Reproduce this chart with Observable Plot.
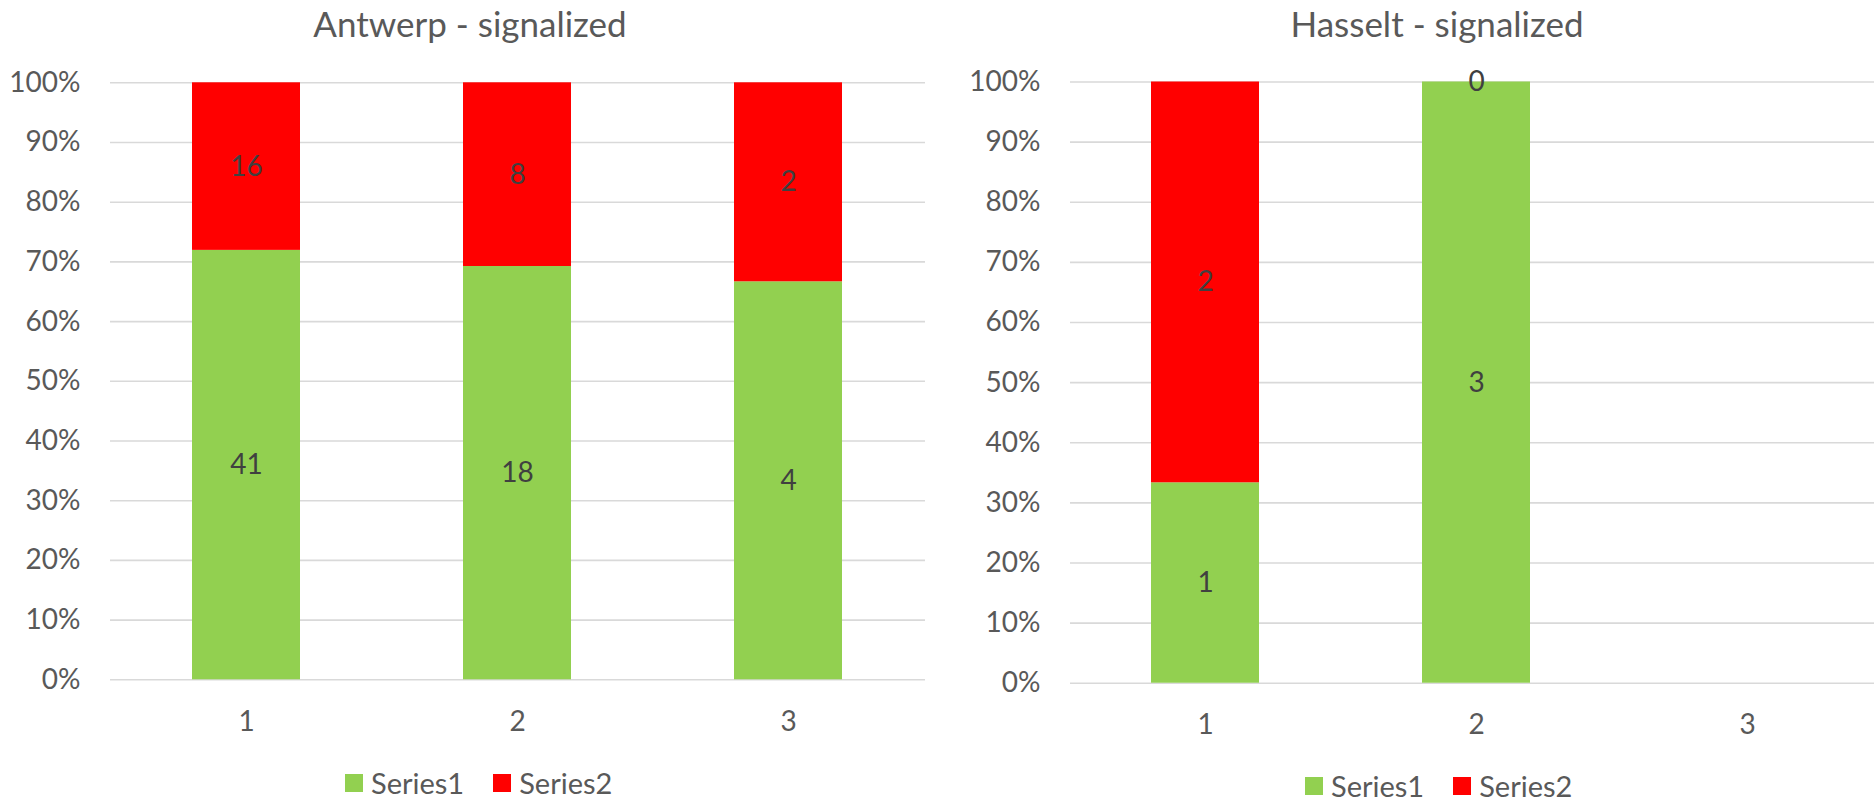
<!DOCTYPE html>
<html>
<head>
<meta charset="utf-8">
<script src="https://cdn.jsdelivr.net/npm/d3@7"></script>
<script src="https://cdn.jsdelivr.net/npm/@observablehq/plot@0.6"></script>
<style>
  html, body { margin: 0; padding: 0; background: #fff; overflow: hidden; }
  #page { position: relative; width: 1874px; height: 803px; overflow: hidden; font-family: Lato, "Open Sans", sans-serif; }
  .title { position: absolute; width: 700px; text-align: center; font-size: 35px; line-height: 36px; color: #595959; white-space: nowrap; }
  .chart { position: absolute; }
  .chart svg { max-width: none !important; }
  .legend { position: absolute; display: flex; align-items: center; font-size: 29px; line-height: 29px; color: #595959; white-space: nowrap; }
  .legend .sw { display: inline-block; width: 18px; height: 18px; margin-right: 8px; }
  .legend .item { display: flex; align-items: center; margin-right: 29px; }
</style>
</head>
<body>
<div id="page"></div>
<script>
// Categories and series values
const categories = ["1", "2", "3"];
const seriesNames = ["Series1", "Series2"];
const seriesColors = ["#92d050", "#ff0000"];

const antwerpSeries1 = [41, 18, 4];
const antwerpSeries2 = [16, 8, 2];

const hasseltSeries1 = [1, 3, null];
const hasseltSeries2 = [2, 0, null];

const yTicks = [0, 0.1, 0.2, 0.3, 0.4, 0.5, 0.6, 0.7, 0.8, 0.9, 1];

function toRows(s1, s2) {
  const rows = [];
  [s1, s2].forEach((vals, si) => {
    vals.forEach((v, ci) => {
      if (v != null) rows.push({cat: categories[ci], series: seriesNames[si], value: v});
    });
  });
  return rows;
}

function stackedChart(rows, {width, height, marginLeft, marginRight, marginTop, marginBottom}) {
  return Plot.plot({
    width, height, marginLeft, marginRight, marginTop, marginBottom,
    style: {fontFamily: "Lato, 'Open Sans', sans-serif", background: "transparent", overflow: "visible", maxWidth: "none"},
    x: {type: "band", domain: categories, paddingInner: 0.6, paddingOuter: 0.3, axis: null},
    y: {domain: [0, 1], axis: null},
    color: {domain: seriesNames, range: seriesColors},
    marks: [
      Plot.gridY(yTicks, {stroke: "#d9d9d9", strokeOpacity: 1, strokeWidth: 1.6}),
      Plot.axisY(yTicks, {tickSize: 0, tickPadding: 30, tickFormat: d3.format(".0%"), fill: "#595959", fontSize: 28, label: null}),
      Plot.axisX({tickSize: 0, tickPadding: 31, fill: "#595959", fontSize: 28, label: null}),
      Plot.barY(rows, {x: "cat", y: "value", fill: "series", offset: "normalize"}),
      Plot.text(rows, Plot.stackY({x: "cat", y: "value", text: d => String(d.value), offset: "normalize", fill: "#404040", fontSize: 28}))
    ]
  });
}

const page = document.getElementById("page");

function addPanel({title, titleCenter, rows, left, top, dims, legendLeft, legendTop}) {
  const t = document.createElement("div");
  t.className = "title";
  t.textContent = title;
  t.style.left = (titleCenter - 350) + "px";
  t.style.top = "5px";
  page.appendChild(t);

  const wrap = document.createElement("div");
  wrap.className = "chart";
  wrap.style.left = left + "px";
  wrap.style.top = top + "px";
  wrap.style.width = dims.width + "px";
  wrap.style.height = dims.height + "px";
  wrap.appendChild(stackedChart(rows, dims));
  page.appendChild(wrap);

  const lg = document.createElement("div");
  lg.className = "legend";
  lg.style.left = legendLeft + "px";
  lg.style.top = legendTop + "px";
  seriesNames.forEach((name, i) => {
    const item = document.createElement("span");
    item.className = "item";
    const sw = document.createElement("span");
    sw.className = "sw";
    sw.style.background = seriesColors[i];
    const label = document.createElement("span");
    label.textContent = name;
    item.appendChild(sw);
    item.appendChild(label);
    lg.appendChild(item);
  });
  page.appendChild(lg);
}

addPanel({
  title: "Antwerp - signalized",
  titleCenter: 470,
  rows: toRows(antwerpSeries1, antwerpSeries2),
  left: 0, top: 50,
  dims: {width: 940, height: 680, marginLeft: 110, marginRight: 15, marginTop: 32.3, marginBottom: 50.7},
  legendLeft: 345, legendTop: 768
});

addPanel({
  title: "Hasselt - signalized",
  titleCenter: 1437,
  rows: toRows(hasseltSeries1, hasseltSeries2),
  left: 960, top: 50,
  dims: {width: 933, height: 683, marginLeft: 110, marginRight: 10, marginTop: 31.5, marginBottom: 50.3},
  legendLeft: 1305, legendTop: 771
});
</script>
</body>
</html>
